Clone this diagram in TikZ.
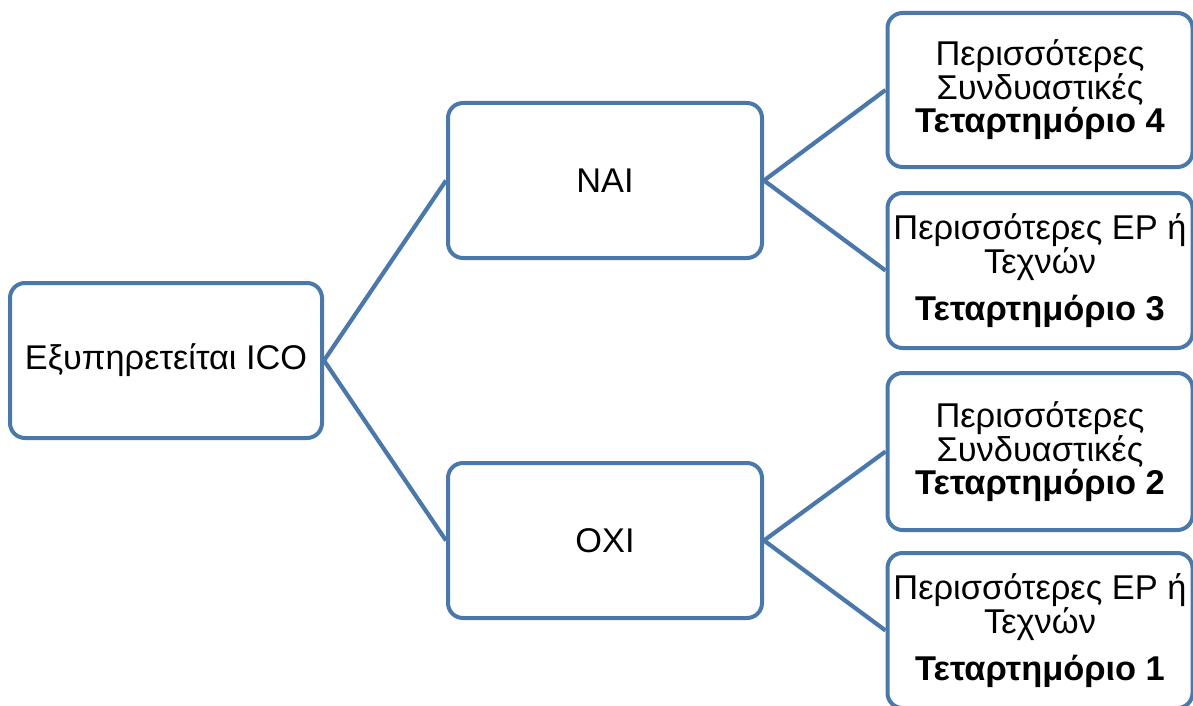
\documentclass[tikz,border=0pt]{standalone}
\usepackage{fontspec}
\setmainfont{Liberation Sans}
\definecolor{edgeblue}{RGB}{74,120,170}
\begin{document}
\begin{tikzpicture}[x=1pt,y=-1pt,
  box/.style={draw=edgeblue, line width=4pt, rounded corners=15pt, fill=white,
    rectangle, align=center, inner sep=0pt},
  link/.style={draw=edgeblue, line width=4.2pt},
  bigtxt/.style={font=\fontsize{34.3}{40}\selectfont},
  smalltxt/.style={font=\fontsize{34.4}{33}\selectfont}]
\useasboundingbox (0,0) rectangle (1193,706);

% decision tree: root, yes/no branches, four quadrant leaves
\node[box, bigtxt, minimum width=312pt, minimum height=155pt] (root) at (166,360.5) {Εξυπηρετείται ICO};
\node[box, bigtxt, minimum width=314pt, minimum height=155pt] (yes) at (605,180.5) {NAI};
\node[box, bigtxt, minimum width=314pt, minimum height=155pt] (no) at (605,540.5) {OXI};

\node[box, smalltxt, minimum width=305pt, minimum height=154pt] (q4) at (1040,90)
  {Περισσότερες\\Συνδυαστικές\\\textbf{Τεταρτημόριο 4}};
\node[box, smalltxt, minimum width=305pt, minimum height=155pt] (q3) at (1040,270.5)
  {Περισσότερες ΕΡ ή\\Τεχνών\\[14pt]\textbf{Τεταρτημόριο 3}};
\node[box, smalltxt, minimum width=305pt, minimum height=157pt] (q2) at (1040,451.5)
  {Περισσότερες\\Συνδυαστικές\\\textbf{Τεταρτημόριο 2}};
\node[box, smalltxt, minimum width=305pt, minimum height=155pt] (q1) at (1040,630.5)
  {Περισσότερες ΕΡ ή\\Τεχνών\\[14pt]\textbf{Τεταρτημόριο 1}};

\draw[link] (root.east) -- (yes.west);
\draw[link] (root.east) -- (no.west);
\draw[link] (yes.east) -- (q4.west);
\draw[link] (yes.east) -- (q3.west);
\draw[link] (no.east) -- (q2.west);
\draw[link] (no.east) -- (q1.west);
\end{tikzpicture}
\end{document}
